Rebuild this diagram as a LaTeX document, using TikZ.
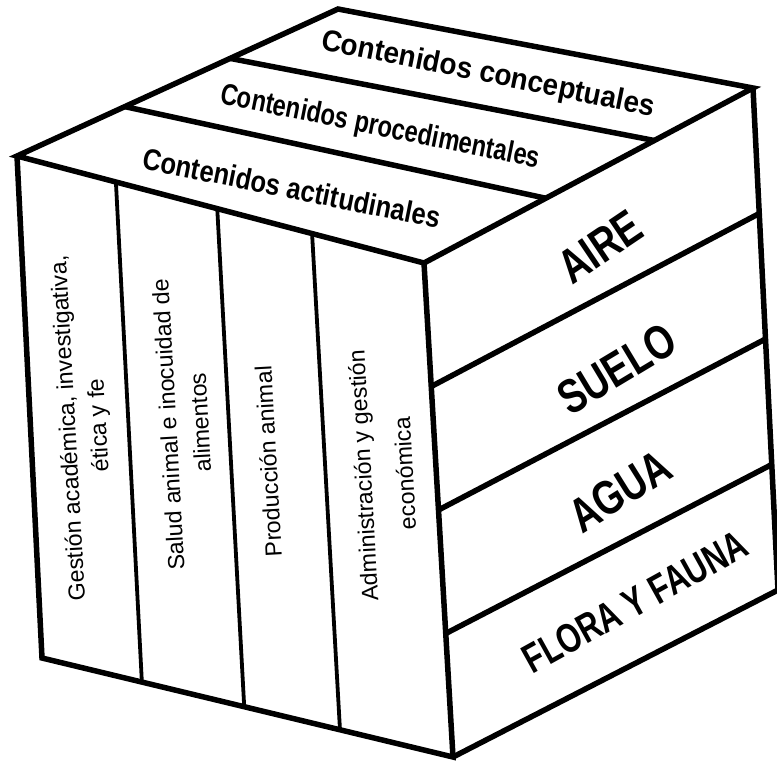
\documentclass[tikz,border=0pt]{standalone}
\usepackage{fontspec}
\usepackage{graphicx}
\setmainfont{Liberation Sans}
\usetikzlibrary{calc}
\begin{document}
\begin{tikzpicture}[x=1pt,y=-1pt, line join=miter,
  edge/.style={line width=5.5pt},
  div/.style={line width=3.8pt},
  toplbl/.style={font=\bfseries\fontsize{30}{30}\selectfont, rotate=-11.4, inner sep=0pt},
  frontlbl/.style={font=\fontsize{23.2}{23.2}\selectfont, rotate=93.2, anchor=base, inner sep=0pt},
  rightlbl/.style={font=\bfseries\fontsize{48}{48}\selectfont, inner sep=0pt}]
\useasboundingbox (0,0) rectangle (777,761);
% corners
\coordinate (T) at (338,9);
\coordinate (TL) at (17,156);
\coordinate (FTR) at (424,263);
\coordinate (TR) at (753,88);
\coordinate (FBL) at (42,658);
\coordinate (FBR) at (453,757);
\coordinate (RBR) at (778,590);
% outline
\draw[edge] (TL) -- (T) -- (TR) -- (FTR) -- cycle;
\draw[edge] (TL) -- (FBL) -- (FBR) -- (FTR);
\draw[edge] (FBR) -- (RBR) -- (TR);
% top face dividers
\draw[edge] ($(T)!0.336!(TL)$) -- ($(TR)!0.30!(FTR)$);
\draw[edge] ($(T)!0.664!(TL)$) -- ($(TR)!0.63!(FTR)$);
% front face dividers
\foreach \f in {0.243,0.492,0.725}
  \draw[div] ($(TL)!\f!(FTR)$) -- ($(FBL)!\f!(FBR)$);
% right face dividers
\foreach \f in {0.25,0.5,0.75}
  \draw[edge] ($(FTR)!\f!(FBR)$) -- ($(TR)!\f!(RBR)$);
% top labels
\node[toplbl] (tc) at (488,75) {\scalebox{0.93}[1]{Contenidos conceptuales}};
\node[toplbl] (tp) at (380,128) {\scalebox{0.79}[1]{Contenidos procedimentales}};
\node[toplbl] (ta) at (292,188) {\scalebox{0.85}[1]{Contenidos actitudinales}};
% front labels
\node[frontlbl] (c1a) at (75.5,428) {Gestión académica, investigativa,};
\node[frontlbl] (c1b) at (106,425) {ética y fe};
\node[frontlbl] (c2a) at (176.4,424) {Salud animal e inocuidad de};
\node[frontlbl] (c2b) at (208.4,422) {alimentos};
\node[frontlbl] (c3) at (276.6,461) {Producción animal};
\node[frontlbl] (c4a) at (371.3,475) {Administración y gestión};
\node[frontlbl] (c4b) at (413,473) {económica};
% right labels
\node[rightlbl, rotate=34] (r1) at (600,247) {\scalebox{0.78}[1]{AIRE}};
\node[rightlbl, rotate=31] (r2) at (617,369) {\scalebox{0.78}[1]{SUELO}};
\node[rightlbl, rotate=32] (r3) at (620,491) {\scalebox{0.78}[1]{AGUA}};
\node[rightlbl, rotate=29, font=\bfseries\fontsize{41}{41}\selectfont] (r4) at (635,602) {\scalebox{0.75}[1]{FLORA Y FAUNA}};
\end{tikzpicture}
\end{document}
